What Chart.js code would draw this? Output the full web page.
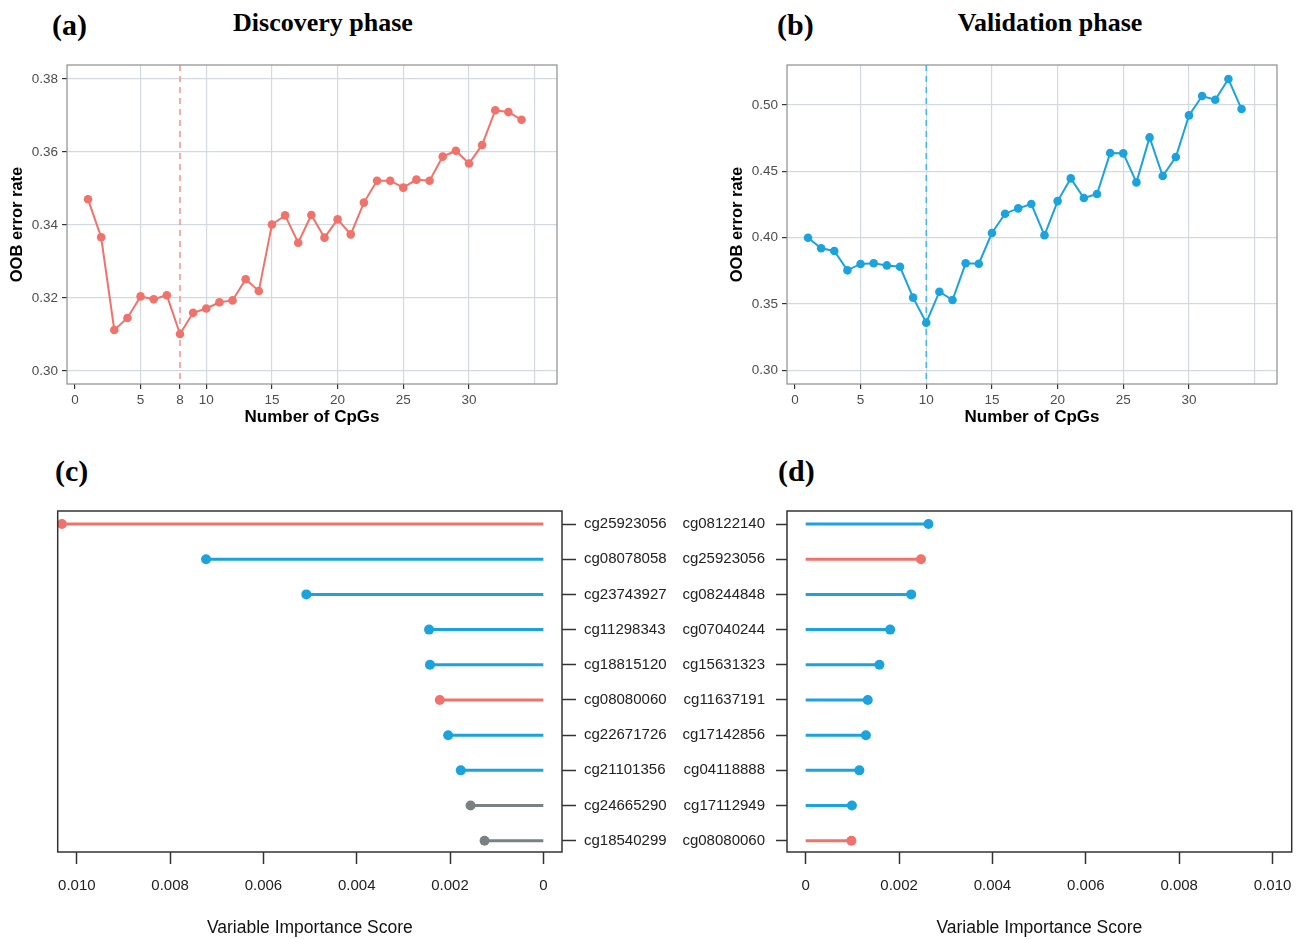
<!DOCTYPE html>
<html>
<head>
<meta charset="utf-8">
<script src="https://cdn.jsdelivr.net/npm/chart.js@4.4.1/dist/chart.umd.min.js"></script>
<style>
  body { margin: 0; background: #fff; width: 1305px; height: 939px; overflow: hidden; position: relative; }
  canvas { position: absolute; }
  .lab { position: absolute; font-family: "Liberation Serif", "Times New Roman", serif; font-weight: bold; color: #000; white-space: nowrap; }
  .letter { font-size: 30px; line-height: 34px; }
  .head { font-size: 26px; line-height: 30px; width: 300px; text-align: center; }
</style>
</head>
<body>
<div class="lab letter" style="left:52px; top:8px;">(a)</div>
<div class="lab head" style="left:173px; top:8px;">Discovery phase</div>
<div class="lab letter" style="left:777px; top:8px;">(b)</div>
<div class="lab head" style="left:900px; top:8px;">Validation phase</div>
<div class="lab letter" style="left:55px; top:454px;">(c)</div>
<div class="lab letter" style="left:778px; top:454px;">(d)</div>

<canvas id="chartA" width="570" height="440" style="left:0px; top:0px;"></canvas>
<canvas id="chartB" width="570" height="440" style="left:720px; top:0px;"></canvas>
<canvas id="chartC" width="680" height="449" style="left:0px; top:490px;"></canvas>
<canvas id="chartD" width="635" height="449" style="left:670px; top:490px;"></canvas>

<script>
// data
const nCpGs = [1,2,3,4,5,6,7,8,9,10,11,12,13,14,15,16,17,18,19,20,21,22,23,24,25,26,27,28,29,30,31,32,33,34];
const oobDiscovery = [0.3470,0.3366,0.3112,0.3145,0.3204,0.3196,0.3207,0.3101,0.3159,0.3171,0.3188,0.3193,0.3251,0.3219,0.3401,0.3426,0.3351,0.3427,0.3365,0.3415,0.3374,0.3461,0.3521,0.3521,0.3502,0.3524,0.3521,0.3587,0.3603,0.3568,0.3619,0.3714,0.3709,0.3688];
const oobValidation = [0.400,0.392,0.390,0.3754,0.3802,0.3807,0.3791,0.3781,0.3548,0.3359,0.3593,0.353,0.3807,0.3804,0.4035,0.4181,0.4221,0.4254,0.4018,0.4276,0.4447,0.4299,0.4329,0.4638,0.4636,0.4417,0.4756,0.4465,0.4608,0.4922,0.5068,0.504,0.5196,0.497];
const bestDiscovery = 8;
const bestValidation = 10;
const xTicksA = [0,5,8,10,15,20,25,30,35];
const xTicksB = [0,5,10,15,20,25,30,35];
const yTicksA = [0.30,0.32,0.34,0.36,0.38];
const yTicksB = [0.30,0.35,0.40,0.45,0.50];

const cpgC = ['cg25923056','cg08078058','cg23743927','cg11298343','cg18815120','cg08080060','cg22671726','cg21101356','cg24665290','cg18540299'];
const impC = [0.01032,0.00723,0.00508,0.00245,0.00243,0.00222,0.00204,0.00177,0.00156,0.00126];
const grpC = ['r','b','b','b','b','r','b','b','g','g'];
const cpgD = ['cg08122140','cg25923056','cg08244848','cg07040244','cg15631323','cg11637191','cg17142856','cg04118888','cg17112949','cg08080060'];
const impD = [0.00263,0.00247,0.00226,0.00181,0.00158,0.00133,0.00129,0.00115,0.00099,0.00098];
const grpD = ['b','r','b','b','b','b','b','b','b','r'];
const impTicks = [0,0.002,0.004,0.006,0.008,0.010];

const RED = '#F1726A', BLUE = '#1BA3DD', GREY = '#7B8083';
const groupColor = { r: RED, b: BLUE, g: GREY };

Chart.defaults.font.family = '"Liberation Sans", Arial, sans-serif';
Chart.defaults.animation = false;

const boxPlugin = {
  id: 'box',
  afterDraw(chart, args, opts) {
    const { ctx, chartArea: a } = chart;
    ctx.save();
    ctx.strokeStyle = opts.color;
    ctx.lineWidth = opts.width;
    ctx.strokeRect(a.left, a.top, a.right - a.left, a.bottom - a.top);
    ctx.restore();
  }
};

const vlinePlugin = {
  id: 'vline',
  beforeDatasetsDraw(chart, args, opts) {
    const { ctx, chartArea: a } = chart;
    const px = chart.scales.x.getPixelForValue(opts.value);
    ctx.save();
    ctx.strokeStyle = opts.color;
    ctx.lineWidth = opts.width;
    ctx.setLineDash([6, 5]);
    ctx.beginPath();
    ctx.moveTo(px, a.top);
    ctx.lineTo(px, a.bottom);
    ctx.stroke();
    ctx.restore();
  }
};

function oobChart(id, values, color, dashColor, best, xTicks, yTicks, yMin, yMax) {
  new Chart(document.getElementById(id), {
    type: 'line',
    data: {
      datasets: [{
        data: nCpGs.map((x, i) => ({ x: x, y: values[i] })),
        borderColor: color,
        backgroundColor: color,
        borderWidth: 2,
        pointRadius: 4.3,
        pointBorderWidth: 0,
        tension: 0,
        clip: false
      }]
    },
    options: {
      responsive: false,
      layout: { padding: { top: 65, right: 13, left: 0, bottom: 0 } },
      plugins: {
        legend: { display: false },
        tooltip: { enabled: false },
        box: { color: '#8E8E8E', width: 1.2 },
        vline: { value: best, color: dashColor, width: 1.6 }
      },
      scales: {
        x: {
          type: 'linear', min: -0.6, max: 36.7,
          afterBuildTicks: s => { s.ticks = xTicks.map(v => ({ value: v })); },
          afterFit: s => { s.height = 56; },
          ticks: {
            color: '#4D4D4D', font: { size: 13.5 }, padding: 3, maxRotation: 0, autoSkip: false,
            callback: v => (v === 35 ? '' : String(v))
          },
          grid: {
            color: c => (c.tick && (c.tick.value === 0 || c.tick.value === 8) ? 'rgba(0,0,0,0)' : '#D2DADF'),
            lineWidth: 1.2,
            tickLength: 5,
            tickColor: c => (c.tick && c.tick.value === 35 ? 'rgba(0,0,0,0)' : '#333')
          },
          border: { display: false },
          title: { display: true, text: 'Number of CpGs', color: '#000', font: { size: 17, weight: 'bold' }, padding: { top: 0, bottom: 12 } }
        },
        y: {
          type: 'linear', min: yMin, max: yMax,
          afterBuildTicks: s => { s.ticks = yTicks.map(v => ({ value: v })); },
          afterFit: s => { s.width = 67; },
          ticks: { color: '#4D4D4D', font: { size: 13.5 }, padding: 4, callback: v => v.toFixed(2) },
          grid: { color: '#D2DADF', lineWidth: 1.2, tickLength: 5, tickColor: '#333' },
          border: { display: false },
          title: { display: true, text: 'OOB error rate', color: '#000', font: { size: 16.5, weight: 'bold' }, padding: { top: 8, bottom: 0 } }
        }
      }
    },
    plugins: [boxPlugin, vlinePlugin]
  });
}

oobChart('chartA', oobDiscovery, RED, '#F39A93', bestDiscovery, xTicksA, yTicksA, 0.2964, 0.3838);
oobChart('chartB', oobValidation, BLUE, '#45BDEB', bestValidation, xTicksB, yTicksB, 0.2897, 0.5302);

function impChart(id, names, values, groups, side, reverseX, padding, axisWidth, tickLen, tickPad) {
  const stems = values.map((v, i) => ({
    type: 'line',
    data: [{ x: 0, y: i }, { x: v, y: i }],
    borderColor: groupColor[groups[i]],
    borderWidth: 3,
    pointRadius: 0,
    clip: false
  }));
  const dots = {
    type: 'scatter',
    data: values.map((v, i) => ({ x: v, y: i })),
    pointRadius: 5,
    pointBorderWidth: 0,
    pointBackgroundColor: groups.map(g => groupColor[g]),
    clip: false
  };
  new Chart(document.getElementById(id), {
    type: 'scatter',
    data: { datasets: [dots].concat(stems) },
    options: {
      responsive: false,
      layout: { padding: padding },
      plugins: {
        legend: { display: false },
        tooltip: { enabled: false },
        box: { color: '#333', width: 1.5 }
      },
      scales: {
        x: {
          type: 'linear', min: -0.0004, max: 0.01041, reverse: reverseX,
          afterBuildTicks: s => { s.ticks = impTicks.map(v => ({ value: v })); },
          afterFit: s => { s.height = 87; },
          ticks: {
            color: '#222', font: { size: 15 }, padding: 13, maxRotation: 0, autoSkip: false,
            callback: v => (v === 0 ? '0' : v.toFixed(3))
          },
          grid: { drawOnChartArea: false, tickLength: 12, tickColor: '#333', tickWidth: 1.5 },
          border: { display: false },
          title: { display: true, text: 'Variable Importance Score', color: '#111', font: { size: 17.5 }, padding: { top: 0, bottom: 0 } }
        },
        y: {
          type: 'linear', position: side, min: -0.37, max: 9.32, reverse: true,
          afterBuildTicks: s => { s.ticks = names.map((n, i) => ({ value: i })); },
          afterFit: s => { s.width = axisWidth; },
          ticks: { color: '#222', font: { size: 15 }, padding: tickPad, autoSkip: false, callback: v => names[v] },
          grid: { drawOnChartArea: false, tickLength: tickLen, tickColor: '#333', tickWidth: 1.5 },
          border: { display: false }
        }
      }
    },
    plugins: [boxPlugin]
  });
}

impChart('chartC', cpgC, impC, grpC, 'right', true, { top: 21, left: 57.7, right: 0, bottom: 0 }, 118, 14, 8);
impChart('chartD', cpgD, impD, grpD, 'left', false, { top: 21, left: 0, right: 13.3, bottom: 0 }, 117, 11, 11);
</script>
</body>
</html>
